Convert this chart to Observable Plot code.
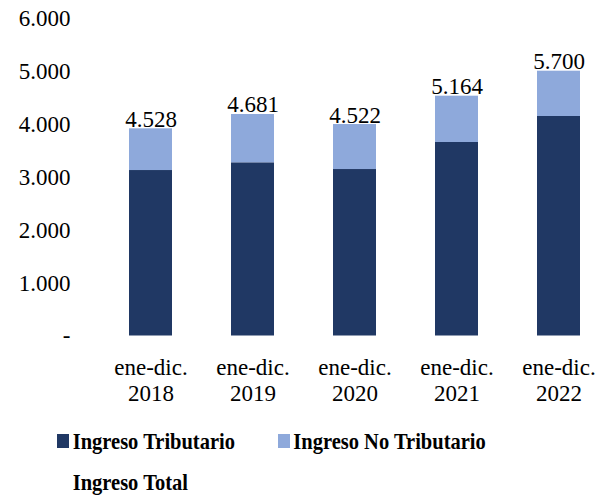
<!DOCTYPE html>
<html><head><meta charset="utf-8">
<script src="https://cdn.jsdelivr.net/npm/d3@7"></script>
<script src="https://cdn.jsdelivr.net/npm/@observablehq/plot@0.6"></script>
<style>
body{margin:0;background:#fff;}
#wrap{position:relative;width:610px;height:496px;font-family:"Liberation Serif","Times New Roman",serif;background:#fff;}
#wrap svg{position:absolute;left:0;top:0;}
.leg{position:absolute;font-weight:bold;font-size:20.5px;white-space:nowrap;line-height:1;color:#000;transform:scaleY(1.15);transform-origin:0 17.2px;}
.sw{position:absolute;width:12px;height:14px;}
</style></head><body><div id="wrap"></div>
<script>
const years = ["2018", "2019", "2020", "2021", "2022"];
const periodPrefix = "ene-dic.";
const series = ["Ingreso Tributario", "Ingreso No Tributario"];
const colors = ["#203864", "#8EA9DB"];
const tributario = [3130, 3276, 3149, 3660, 4152];
const noTributario = [789, 914, 851, 876, 857];
const totalLabels = [4528, 4681, 4522, 5164, 5700];
const yTicks = [0, 1000, 2000, 3000, 4000, 5000, 6000];

const loc = d3.formatLocale({decimal: ",", thousands: ".", grouping: [3], currency: ["", ""]});
const fmt = loc.format(",.0f");

const data = years.flatMap((yr, i) => [
  {yr, serie: series[0], v: tributario[i]},
  {yr, serie: series[1], v: noTributario[i]}
]);

const chart = Plot.plot({
  width: 610, height: 410,
  marginTop: 18.3, marginBottom: 74.5, marginLeft: 106.7, marginRight: 7.7,
  style: {fontFamily: '"Liberation Serif","Times New Roman",serif', fontSize: "23px", color: "#000", background: "#fff"},
  x: {domain: years, paddingInner: 0.58, paddingOuter: 0.2, axis: null},
  y: {domain: [0, 6000], axis: null},
  color: {domain: series, range: colors},
  marks: [
    Plot.axisY({ticks: yTicks, tickSize: 0, tickPadding: 36.7, label: null, tickFormat: d => d === 0 ? "-" : fmt(d), fontSize: 23}),
    Plot.barY(data, {x: "yr", y: "v", fill: "serie"}),
    Plot.text(years, {x: d => d, y: (d, i) => tributario[i] + noTributario[i], text: (d, i) => fmt(totalLabels[i]), lineAnchor: "bottom", dy: -2, fontSize: 23, fill: "#000"}),
    Plot.text(years, {x: d => d, frameAnchor: "bottom", text: d => periodPrefix + "\n" + d, lineAnchor: "top", dy: 20.9, lineHeight: 1.113, fontSize: 23, fill: "#000"})
  ]
});

const wrap = document.getElementById("wrap");
wrap.appendChild(chart);

function addLegend(label, color, swX, textX, baseline) {
  if (color) {
    const s = document.createElement("div");
    s.className = "sw";
    s.style.left = swX + "px";
    s.style.top = (baseline - 15) + "px";
    s.style.background = color;
    wrap.appendChild(s);
  }
  const t = document.createElement("div");
  t.className = "leg";
  t.textContent = label;
  t.style.left = textX + "px";
  t.style.top = (baseline - 17.2) + "px";
  wrap.appendChild(t);
}
addLegend(series[0], colors[0], 57.3, 72.7, 449);
addLegend(series[1], colors[1], 278, 293.3, 449);
addLegend("Ingreso Total", null, 0, 72.7, 490);
</script></body></html>
